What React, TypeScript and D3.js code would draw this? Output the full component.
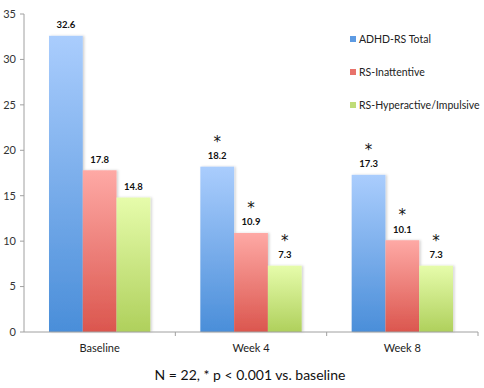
import * as d3 from "d3";

const categories = ["Baseline", "Week 4", "Week 8"];
const seriesNames = ["ADHD-RS Total", "RS-Inattentive", "RS-Hyperactive/Impulsive"];
const totalValues = [32.6, 18.2, 17.3];
const inattentiveValues = [17.8, 10.9, 10.1];
const hyperValues = [14.8, 7.3, 7.3];
const significant = [false, true, true];
const yTicks = [0, 5, 10, 15, 20, 25, 30, 35];
const footnote = "N = 22, * p < 0.001 vs. baseline";

const gradients = [
  { id: "gBlue", top: "#aacdfd", bottom: "#4a8ed9", swatch: "#5d9be3" },
  { id: "gRed", top: "#fea9a5", bottom: "#db564e", swatch: "#e8726b" },
  { id: "gGreen", top: "#e6fcab", bottom: "#afd05c", swatch: "#bfdc78" },
];

const width = 484;
const height = 388;
const margin = { top: 14, right: 6, bottom: 56, left: 24 };
const font = "Lato, 'Open Sans', sans-serif";

export default function App() {
  const values = [totalValues, inattentiveValues, hyperValues];

  const x0 = d3
    .scaleBand()
    .domain(categories)
    .range([margin.left, width - margin.right])
    .padding(0);

  const x1 = d3
    .scaleBand()
    .domain(seriesNames)
    .range([0, x0.bandwidth()])
    .paddingInner(0)
    .paddingOuter(0.74);

  const y = d3
    .scaleLinear()
    .domain([0, 35])
    .range([height - margin.bottom, margin.top]);

  const y0 = y(0);

  return (
    <svg
      width={width}
      height={height}
      style={{ position: "absolute", left: 0, top: 0, background: "#fff" }}
      fontFamily={font}
    >
      <defs>
        {gradients.map((g) => (
          <linearGradient key={g.id} id={g.id} x1="0" y1="0" x2="0" y2="1">
            <stop offset="0%" stopColor={g.top} />
            <stop offset="100%" stopColor={g.bottom} />
          </linearGradient>
        ))}
        <filter id="shadow" x="-20%" y="-5%" width="140%" height="110%">
          <feDropShadow dx="1.5" dy="0" stdDeviation="0.8" floodColor="#000" floodOpacity="0.18" />
        </filter>
      </defs>

      {/* y axis */}
      <line x1={margin.left} x2={margin.left} y1={y(35)} y2={y0} stroke="#a0a0a0" />
      {yTicks.map((t) => (
        <g key={t} transform={`translate(0,${y(t)})`}>
          <line x1={margin.left - 4} x2={margin.left} stroke="#a0a0a0" />
          <text x={margin.left - 8} dy="0.35em" textAnchor="end" fontSize={11} fill="#333">
            {t}
          </text>
        </g>
      ))}

      {/* bars */}
      {categories.map((c, ci) => (
        <g key={c} transform={`translate(${x0(c)},0)`}>
          {seriesNames.map((s, si) => {
            const v = values[si][ci];
            const bx = x1(s) as number;
            const bw = x1.bandwidth();
            const top = y(v);
            return (
              <g key={s}>
                <rect
                  x={bx}
                  y={top}
                  width={bw}
                  height={y0 - top}
                  fill={`url(#${gradients[si].id})`}
                  filter="url(#shadow)"
                />
                <text
                  x={bx + bw / 2}
                  y={top - 7.5}
                  textAnchor="middle"
                  fontSize={9.5}
                  fontWeight="bold"
                  fill="#111"
                >
                  {v.toFixed(1)}
                </text>
                {significant[ci] && (
                  <text
                    x={bx + bw / 2}
                    y={top - 20}
                    textAnchor="middle"
                    fontSize={15}
                    fontFamily="'DejaVu Sans', sans-serif"
                    fill="#111"
                  >
                    *
                  </text>
                )}
              </g>
            );
          })}
        </g>
      ))}

      {/* x axis */}
      <line x1={margin.left} x2={width - margin.right} y1={y0} y2={y0} stroke="#a0a0a0" />
      {categories.slice(1).map((c) => (
        <line
          key={c}
          x1={x0(c)}
          x2={x0(c)}
          y1={y0}
          y2={y0 + 4}
          stroke="#a0a0a0"
        />
      ))}
      <line x1={width - margin.right} x2={width - margin.right} y1={y0} y2={y0 + 4} stroke="#a0a0a0" />
      {categories.map((c) => (
        <text
          key={c}
          x={(x0(c) as number) + x0.bandwidth() / 2}
          y={y0 + 20}
          textAnchor="middle"
          fontSize={11}
          fill="#222"
        >
          {c}
        </text>
      ))}

      {/* legend */}
      {seriesNames.map((s, i) => (
        <g key={s} transform={`translate(350,${39 + i * 33})`}>
          <rect x={0} y={-3} width={6} height={6} fill={gradients[i].swatch} />
          <text x={9} dy="0.35em" fontSize={10.5} fill="#222">
            {s}
          </text>
        </g>
      ))}

      <text x={250} y={380} textAnchor="middle" fontSize={14} fill="#111">
        {footnote}
      </text>
    </svg>
  );
}
